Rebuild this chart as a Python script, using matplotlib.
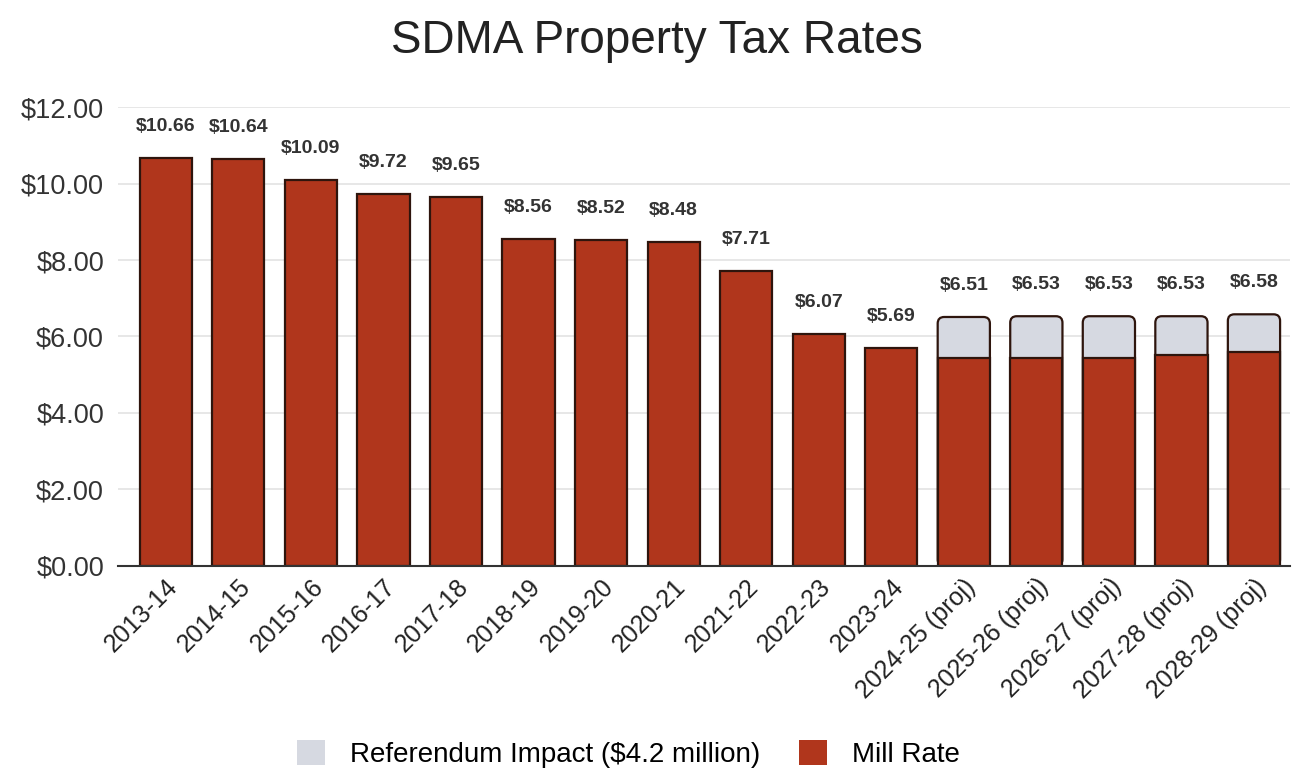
import numpy as np
import matplotlib.pyplot as plt
from matplotlib.patches import Patch, FancyBboxPatch

# Данные
years = ['2013-14', '2014-15', '2015-16', '2016-17', '2017-18', '2018-19',
         '2019-20', '2020-21', '2021-22', '2022-23', '2023-24',
         '2024-25 (proj)', '2025-26 (proj)', '2026-27 (proj)',
         '2027-28 (proj)', '2028-29 (proj)']
mill_rate = [10.66, 10.64, 10.09, 9.72, 9.65, 8.56, 8.52, 8.48, 7.71, 6.07, 5.69,
             5.43, 5.43, 5.43, 5.52, 5.60]
referendum = [0, 0, 0, 0, 0, 0, 0, 0, 0, 0, 0,
              1.08, 1.10, 1.10, 1.01, 0.98]
totals = ['$10.66', '$10.64', '$10.09', '$9.72', '$9.65', '$8.56', '$8.52',
          '$8.48', '$7.71', '$6.07', '$5.69', '$6.51', '$6.53', '$6.53',
          '$6.53', '$6.58']

plt.rcParams['font.family'] = ['Liberation Sans', 'DejaVu Sans']

red = '#b0361c'
grey = '#d6d9e1'
edge = '#2e150d'
bar_w = 0.72

fig = plt.figure(figsize=(12.96, 7.7), dpi=100)
ax = fig.add_axes([0.091, 0.265, 0.904, 0.596])

x = np.arange(len(years))
mill = np.array(mill_rate)
ref = np.array(referendum)

ax.set_ylim(0, 12)
ax.set_xlim(-0.66, 15.49)

# серые столбцы со скруглёнными углами (красные рисуются поверх)
for i in x[ref > 0]:
    box = FancyBboxPatch((i - bar_w / 2, 0), bar_w, mill[i] + ref[i],
                         boxstyle='round,pad=0,rounding_size=0.09',
                         mutation_aspect=1.9, facecolor=grey, edgecolor=edge,
                         linewidth=1.6, zorder=3)
    ax.add_patch(box)

ax.bar(x, mill, width=bar_w, color=red, edgecolor=edge, linewidth=1.6, zorder=4)

for i in range(len(x)):
    ax.text(x[i], mill[i] + ref[i] + 0.6, totals[i], ha='center', va='bottom',
            fontsize=14, fontweight='bold', color='#333333', clip_on=False)

ax.set_yticks(np.arange(0, 13, 2))
ax.set_yticklabels([f'${v:.2f}' for v in np.arange(0, 13, 2)], fontsize=19.5,
                   color='#333333')
ax.set_xticks(x)
ax.set_xticklabels(years, rotation=45, ha='right', rotation_mode='anchor',
                   fontsize=18, color='#222222')
ax.tick_params(axis='y', length=0, pad=10)
ax.tick_params(axis='x', length=0, pad=6)
ax.grid(axis='y', color='#e3e3e3', linewidth=1.2, zorder=0)
for s in ['top', 'right', 'left']:
    ax.spines[s].set_visible(False)
ax.spines['bottom'].set_color('#333333')
ax.spines['bottom'].set_linewidth(1.5)
ax.spines['bottom'].set_zorder(5)

fig.suptitle('SDMA Property Tax Rates', fontsize=33, x=0.507, y=0.975,
             color='#222222')

handles = [Patch(facecolor=grey, edgecolor='none', label='Referendum Impact ($4.2 million)'),
           Patch(facecolor=red, edgecolor='none', label='Mill Rate')]
fig.legend(handles=handles, loc='lower center', ncol=2, frameon=False,
           fontsize=20, bbox_to_anchor=(0.485, -0.03), handlelength=1.0,
           handleheight=1.0, columnspacing=1.4, handletextpad=0.9)

fig.savefig('out.png', dpi=100)
